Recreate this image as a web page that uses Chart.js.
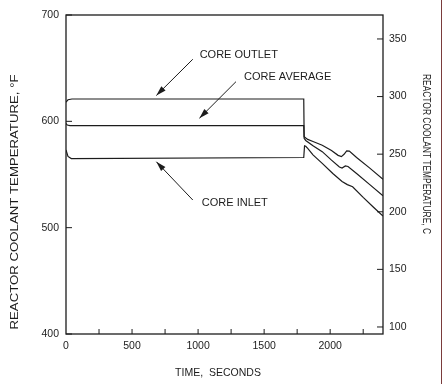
<!DOCTYPE html>
<html>
<head>
<meta charset="utf-8">
<script src="https://cdn.jsdelivr.net/npm/chart.js@4.4.1/dist/chart.umd.min.js"></script>
<style>
  html, body { margin: 0; padding: 0; background: #fff; }
  canvas { display: block; }
</style>
</head>
<body>
<canvas id="myChart" width="444" height="384"></canvas>
<script>
// time in seconds, temperature in deg F
const outletTime = [0, 15, 45, 1800, 1803, 1830, 1870, 1940, 2010, 2060, 2085, 2105, 2125, 2145, 2200, 2300, 2400];
const outletTemp = [618, 620.3, 621, 621, 585.5, 583, 581, 577.5, 572.5, 568, 566.8, 569, 572.3, 572, 566, 556, 545.5];

const averageTime = [0, 10, 30, 1800, 1803, 1815, 1870, 1940, 2010, 2070, 2090, 2115, 2135, 2200, 2300, 2400];
const averageTemp = [598, 596.5, 596, 596, 584, 582, 577, 571.5, 563.5, 557, 556, 558, 557.5, 551, 540.5, 530];

const inletTime = [0, 15, 40, 1800, 1806, 1815, 1830, 1870, 1940, 2020, 2090, 2130, 2170, 2250, 2330, 2400];
const inletTemp = [573, 567, 565, 566, 577, 576.5, 574.5, 568.5, 560.5, 551, 543.5, 540.5, 538.5, 528.5, 519, 511];

const xTicks = [250, 500, 750, 1000, 1250, 1500, 1750, 2000, 2250];
const xLabels = [0, 500, 1000, 1500, 2000];
const fTicks = [400, 500, 600, 700];
const cTicks = [100, 150, 200, 250, 300, 350];

const ink = '#1c1c1c';
const family = '"Liberation Sans", Arial, sans-serif';

const toPoints = (t, v) => t.map((x, i) => ({ x: x, y: v[i] }));

const notes = [
  { text: 'CORE OUTLET', at: [1308, 662], from: [960, 658.4], to: [684, 624.3] },
  { text: 'CORE AVERAGE', at: [1678, 641.7], from: [1287, 637.3], to: [1010, 602.9] },
  { text: 'CORE INLET', at: [1278, 523], from: [960, 526], to: [684, 562] }
];

function arrow(ctx, x1, y1, x2, y2) {
  const ang = Math.atan2(y2 - y1, x2 - x1);
  ctx.beginPath();
  ctx.moveTo(x1, y1);
  ctx.lineTo(x2, y2);
  ctx.stroke();
  ctx.beginPath();
  ctx.moveTo(x2, y2);
  ctx.lineTo(x2 - 10 * Math.cos(ang) + 3 * Math.sin(ang), y2 - 10 * Math.sin(ang) - 3 * Math.cos(ang));
  ctx.lineTo(x2 - 10 * Math.cos(ang) - 3 * Math.sin(ang), y2 - 10 * Math.sin(ang) + 3 * Math.cos(ang));
  ctx.closePath();
  ctx.fill();
}

// rotated text stretched to a given length
function sideText(ctx, text, cx, cy, rot, size, len) {
  ctx.save();
  ctx.translate(cx, cy);
  ctx.rotate(rot);
  ctx.font = size + 'px ' + family;
  const w = ctx.measureText(text).width;
  ctx.scale(len / w, 1);
  ctx.textAlign = 'center';
  ctx.textBaseline = 'middle';
  ctx.fillText(text, 0, 0);
  ctx.restore();
}

const overlay = {
  id: 'overlay',
  afterDraw(chart) {
    const { ctx, chartArea: a, scales } = chart;
    const x = scales.x, y = scales.y, y2 = scales.y2;
    ctx.save();
    ctx.strokeStyle = ink;
    ctx.fillStyle = ink;
    ctx.lineWidth = 1.3;
    ctx.strokeRect(a.left, a.top, a.right - a.left, a.bottom - a.top);

    ctx.lineWidth = 1;
    ctx.beginPath();
    xTicks.forEach(v => {
      const px = x.getPixelForValue(v);
      ctx.moveTo(px, a.bottom);
      ctx.lineTo(px, a.bottom - 5);
    });
    fTicks.forEach(v => {
      const py = y.getPixelForValue(v);
      ctx.moveTo(a.left, py);
      ctx.lineTo(a.left + 6, py);
    });
    cTicks.forEach(v => {
      const py = y2.getPixelForValue(v);
      ctx.moveTo(a.right, py);
      ctx.lineTo(a.right - 6, py);
    });
    ctx.stroke();

    ctx.font = '11px ' + family;
    ctx.textAlign = 'center';
    ctx.textBaseline = 'middle';
    notes.forEach(n => {
      ctx.fillText(n.text, x.getPixelForValue(n.at[0]), y.getPixelForValue(n.at[1]));
      arrow(ctx, x.getPixelForValue(n.from[0]), y.getPixelForValue(n.from[1]),
        x.getPixelForValue(n.to[0]), y.getPixelForValue(n.to[1]));
    });

    ctx.font = '10.5px ' + family;
    ctx.fillText('TIME,  SECONDS', 218, 373);

    sideText(ctx, 'REACTOR COOLANT TEMPERATURE, °F', 15, 202, -Math.PI / 2, 10, 255);
    sideText(ctx, 'REACTOR COOLANT TEMPERATURE, C', 426, 154, Math.PI / 2, 11, 160);

    // scanned page edge
    ctx.strokeStyle = '#7a3b3b';
    ctx.beginPath();
    ctx.moveTo(441.5, 0);
    ctx.lineTo(441.5, 384);
    ctx.stroke();
    ctx.restore();
  }
};

const lineStyle = { borderColor: ink, borderWidth: 1.2, pointRadius: 0, tension: 0, fill: false, yAxisID: 'y' };
const tickFont = { size: 10.5, family: family };
const plain = v => String(v);

new Chart(document.getElementById('myChart'), {
  type: 'line',
  data: {
    datasets: [
      Object.assign({ label: 'Core outlet', data: toPoints(outletTime, outletTemp) }, lineStyle),
      Object.assign({ label: 'Core average', data: toPoints(averageTime, averageTemp) }, lineStyle),
      Object.assign({ label: 'Core inlet', data: toPoints(inletTime, inletTemp) }, lineStyle)
    ]
  },
  options: {
    responsive: false,
    animation: false,
    events: [],
    layout: { padding: { top: 15 } },
    scales: {
      x: {
        type: 'linear',
        min: 0,
        max: 2400,
        afterBuildTicks: s => { s.ticks = xLabels.map(v => ({ value: v })); },
        afterFit: s => { s.height = 50; },
        grid: { display: false, drawTicks: false },
        border: { display: false },
        ticks: { color: ink, font: tickFont, padding: 6, maxRotation: 0, callback: plain }
      },
      y: {
        min: 400,
        max: 700,
        afterBuildTicks: s => { s.ticks = fTicks.map(v => ({ value: v })); },
        afterFit: s => { s.width = 66; },
        grid: { display: false, drawTicks: false },
        border: { display: false },
        ticks: { color: ink, font: tickFont, padding: 7, callback: plain }
      },
      y2: {
        position: 'right',
        min: 93.9,
        max: 370.8,
        afterBuildTicks: s => { s.ticks = cTicks.map(v => ({ value: v })); },
        afterFit: s => { s.width = 61; },
        grid: { display: false, drawTicks: false },
        border: { display: false },
        ticks: { color: ink, font: tickFont, padding: 6, callback: plain }
      }
    },
    plugins: {
      legend: { display: false },
      tooltip: { enabled: false }
    }
  },
  plugins: [overlay]
});
</script>
</body>
</html>
